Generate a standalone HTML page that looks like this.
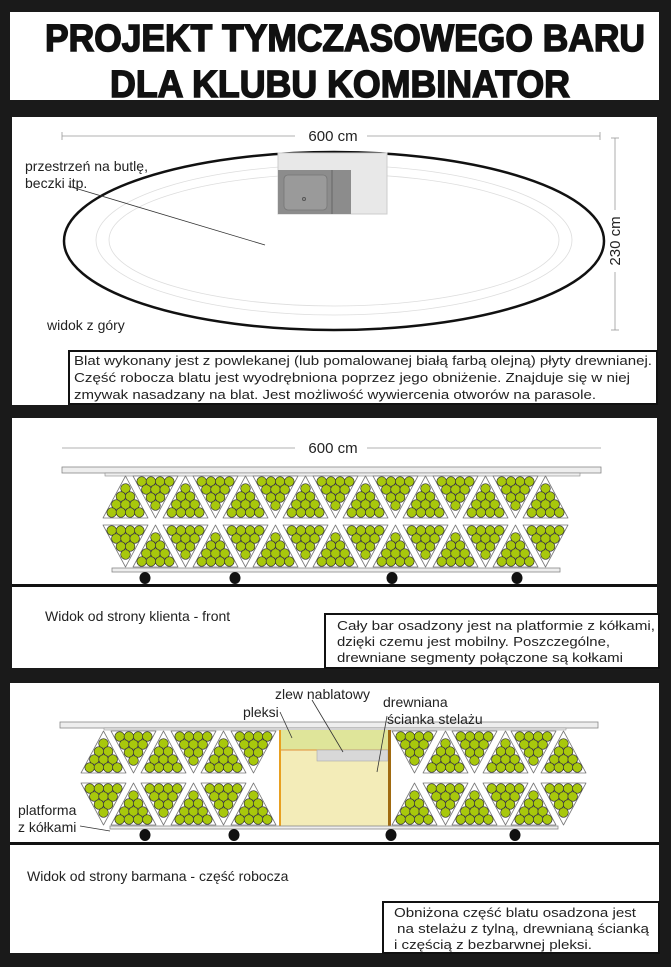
<!DOCTYPE html>
<html><head><meta charset="utf-8"><style>
html,body{margin:0;padding:0;background:#1a1a1a;}
svg{display:block;font-family:"Liberation Sans",sans-serif;}
</style></head><body>
<svg id="s" width="671" height="967" viewBox="0 0 671 967" xmlns="http://www.w3.org/2000/svg">
<rect x="0" y="0" width="671" height="967" fill="#1a1a1a"/>
<g>
<rect x="10" y="12" width="649" height="88" fill="#fff"/>
<text x="45" y="51" font-size="38" font-weight="bold" textLength="600" lengthAdjust="spacingAndGlyphs" fill="#111" stroke="#111" stroke-width="1.5">PROJEKT TYMCZASOWEGO BARU</text>
<text x="110" y="97" font-size="38" font-weight="bold" textLength="460" lengthAdjust="spacingAndGlyphs" fill="#111" stroke="#111" stroke-width="1.5">DLA KLUBU KOMBINATOR</text>
</g>
<g>
<rect x="12" y="117" width="645" height="288" fill="#fff"/>
<line x1="62" y1="136" x2="295" y2="136" stroke="#999" stroke-width="0.8"/>
<line x1="367" y1="136" x2="600" y2="136" stroke="#999" stroke-width="0.8"/>
<line x1="62" y1="132" x2="62" y2="140" stroke="#999" stroke-width="0.8"/>
<line x1="600" y1="132" x2="600" y2="140" stroke="#999" stroke-width="0.8"/>
<text x="333" y="141" font-size="15" text-anchor="middle" fill="#222">600 cm</text>
<line x1="615" y1="138" x2="615" y2="210" stroke="#999" stroke-width="0.8"/>
<line x1="615" y1="272" x2="615" y2="330" stroke="#999" stroke-width="0.8"/>
<line x1="611" y1="138" x2="619" y2="138" stroke="#999" stroke-width="0.8"/>
<line x1="611" y1="330" x2="619" y2="330" stroke="#999" stroke-width="0.8"/>
<text x="620" y="241" font-size="15" text-anchor="middle" fill="#222" transform="rotate(-90 620 241)">230 cm</text>
<ellipse cx="334" cy="241" rx="270" ry="89" fill="#fff" stroke="#111" stroke-width="2.5"/>
<ellipse cx="334" cy="240" rx="238" ry="75" fill="none" stroke="#ddd" stroke-width="0.8"/>
<ellipse cx="334" cy="240" rx="225" ry="66" fill="none" stroke="#ddd" stroke-width="0.8"/>
<rect x="278" y="153" width="109" height="61" fill="#e8e8e8" stroke="#ccc"/>
<rect x="278" y="170" width="73" height="44" fill="#8c8c8c"/>
<rect x="284" y="175" width="43" height="35" rx="4" fill="#9a9a9a" stroke="#777" stroke-width="0.8"/>
<line x1="332" y1="170" x2="332" y2="214" stroke="#666"/>
<circle cx="304" cy="199" r="1.5" fill="none" stroke="#555"/>
<line x1="68" y1="186" x2="265" y2="245" stroke="#333" stroke-width="0.8"/>
<text x="25" y="171" font-size="14" fill="#222">przestrzeń na butlę,</text>
<text x="25" y="188" font-size="14" fill="#222">beczki itp.</text>
<text x="47" y="330" font-size="14" fill="#222">widok z góry</text>
<rect x="69" y="351" width="588" height="53" fill="#fff" stroke="#111" stroke-width="2"/>
<text x="74" y="365" font-size="13" fill="#222" textLength="578" lengthAdjust="spacingAndGlyphs">Blat wykonany jest z powlekanej (lub pomalowanej białą farbą olejną) płyty drewnianej.</text>
<text x="74" y="382" font-size="13" fill="#222" textLength="556" lengthAdjust="spacingAndGlyphs">Część robocza blatu jest wyodrębniona poprzez jego obniżenie. Znajduje się w niej</text>
<text x="74" y="399" font-size="13" fill="#222" textLength="522" lengthAdjust="spacingAndGlyphs">zmywak nasadzany na blat. Jest możliwość wywiercenia otworów na parasole.</text>
</g>
<g>
<rect x="12" y="418" width="645" height="250" fill="#fff"/>
<line x1="62" y1="448" x2="295" y2="448" stroke="#999" stroke-width="0.8"/>
<line x1="367" y1="448" x2="601" y2="448" stroke="#999" stroke-width="0.8"/>
<text x="333" y="453" font-size="15" text-anchor="middle" fill="#222">600 cm</text>
<rect x="62" y="467" width="539" height="6" fill="#eee" stroke="#888" stroke-width="0.8"/>
<rect x="105" y="473" width="475" height="3" fill="#eee" stroke="#888" stroke-width="0.6"/>
<g id="frontTri"></g>
<rect x="112" y="568" width="448" height="4" fill="#eee" stroke="#888" stroke-width="0.8"/>
<g id="frontWheels"></g>
<rect x="12" y="584" width="645" height="3" fill="#111"/>
<text x="45" y="621" font-size="14" fill="#222">Widok od strony klienta - front</text>
<rect x="325" y="614" width="334" height="54" fill="#fff" stroke="#111" stroke-width="2"/>
<text x="337" y="630" font-size="13" fill="#222" textLength="318" lengthAdjust="spacingAndGlyphs">Cały bar osadzony jest na platformie z kółkami,</text>
<text x="337" y="646" font-size="13" fill="#222" textLength="273" lengthAdjust="spacingAndGlyphs">dzięki czemu jest mobilny. Poszczególne,</text>
<text x="337" y="662" font-size="13" fill="#222" textLength="286" lengthAdjust="spacingAndGlyphs">drewniane segmenty połączone są kołkami</text>
</g>
<g>
<rect x="10" y="683" width="649" height="270" fill="#fff"/>
<rect x="60" y="722" width="538" height="6" fill="#eee" stroke="#888" stroke-width="0.8"/>
<rect x="104" y="728" width="462" height="2" fill="#eee" stroke="#888" stroke-width="0.5"/>
<g id="backTri"></g>
<rect x="280" y="730" width="109" height="96" fill="#f3ecb8"/>
<rect x="280" y="730" width="109" height="20" fill="#dfe59a"/>
<line x1="280" y1="750" x2="389" y2="750" stroke="#e0903a" stroke-width="1"/>
<rect x="317" y="750" width="71" height="11" fill="#d8d8d8" stroke="#aaa" stroke-width="0.6"/>
<rect x="279" y="730" width="2" height="96" fill="#e8a020"/>
<rect x="388" y="730" width="3" height="96" fill="#a06a10"/>
<rect x="110" y="826" width="448" height="3" fill="#eee" stroke="#888" stroke-width="0.8"/>
<g id="backWheels"></g>
<rect x="10" y="842" width="649" height="3" fill="#111"/>
<line x1="312" y1="700" x2="343" y2="752" stroke="#333" stroke-width="0.8"/>
<line x1="280" y1="712" x2="292" y2="738" stroke="#333" stroke-width="0.8"/>
<line x1="387" y1="716" x2="377" y2="772" stroke="#333" stroke-width="0.8"/>
<line x1="80" y1="826" x2="110" y2="831" stroke="#333" stroke-width="0.8"/>
<text x="275" y="699" font-size="14" fill="#222">zlew nablatowy</text>
<text x="243" y="717" font-size="14" fill="#222">pleksi</text>
<text x="383" y="707" font-size="14" fill="#222">drewniana</text>
<text x="387" y="724" font-size="14" fill="#222">ścianka stelażu</text>
<text x="18" y="815" font-size="14" fill="#222">platforma</text>
<text x="18" y="832" font-size="14" fill="#222">z kółkami</text>
<text x="27" y="881" font-size="14" fill="#222">Widok od strony barmana - część robocza</text>
<rect x="383" y="902" width="276" height="51" fill="#fff" stroke="#111" stroke-width="2"/>
<text x="394" y="917" font-size="13" fill="#222" textLength="242" lengthAdjust="spacingAndGlyphs">Obniżona część blatu osadzona jest</text>
<text x="397" y="933" font-size="13" fill="#222" textLength="252" lengthAdjust="spacingAndGlyphs">na stelażu z tylną, drewnianą ścianką</text>
<text x="394" y="949" font-size="13" fill="#222" textLength="198" lengthAdjust="spacingAndGlyphs">i częścią z bezbarwnej pleksi.</text>
</g>
</svg>
<script>
// triangle column starts (x) and orientation (1 = up in top row)
const frontCols = [103,133,163,193,223,253,283,313,343,373,403,433,463,493,523];
const backCols = [81,111,141,171,201,231,392,423,452,483,511,541];
const backUp = [1,0,1,0,1,0,0,1,0,1,0,1];
const frontWheelX = [145,235,392,517];
const backWheelX = [145,234,391,515];
const NS='http://www.w3.org/2000/svg';
function tri(g,x,y,up){
  const w=45,h=42;
  const t=document.createElementNS(NS,'g');
  
  
  const p=document.createElementNS(NS,'polygon');
  const pts= up? [[x+w/2,y],[x+w,y+h],[x,y+h]] : [[x,y],[x+w,y],[x+w/2,y+h]];
  p.setAttribute('points',pts.map(a=>a.join(',')).join(' '));
  p.setAttribute('fill','#fff');p.setAttribute('stroke','#777');p.setAttribute('stroke-width','0.8');p.setAttribute('stroke-linejoin','round');
  t.appendChild(p);
  const r=4.8,dx=9.2,dy=8;
  for(let row=0;row<4;row++){
    const n= up? row+1 : 4-row;
    const depth = up? 12.5+row*dy : 12.5+(3-row)*dy;
    const cy = up? y+depth : y+h-depth;
    for(let i=0;i<n;i++){
      const c=document.createElementNS(NS,'circle');
      c.setAttribute('cx', x+w/2+(i-(n-1)/2)*dx);
      c.setAttribute('cy', cy);
      c.setAttribute('r', r);
      c.setAttribute('fill','#a8c80c');c.setAttribute('stroke','#333');c.setAttribute('stroke-width','0.7');
      t.appendChild(c);
    }
  }
  g.appendChild(t);
}
const fg=document.getElementById('frontTri');
frontCols.forEach((x,i)=>{const up=i%2===0; tri(fg,x,476,up); tri(fg,x,525,!up);});
const bg=document.getElementById('backTri');
backCols.forEach((x,i)=>{const up=backUp[i]===1; tri(bg,x,731,up); tri(bg,x,783,!up);});
function wheels(id,xs,y){const g=document.getElementById(id);xs.forEach(x=>{const c=document.createElementNS(NS,'ellipse');


c.setAttribute('cx',x);c.setAttribute('cy',y);c.setAttribute('rx',5.5);c.setAttribute('ry',6);c.setAttribute('fill','#111');g.appendChild(c);});}
wheels('frontWheels',frontWheelX,578);
wheels('backWheels',backWheelX,835);
</script>
</body></html>
